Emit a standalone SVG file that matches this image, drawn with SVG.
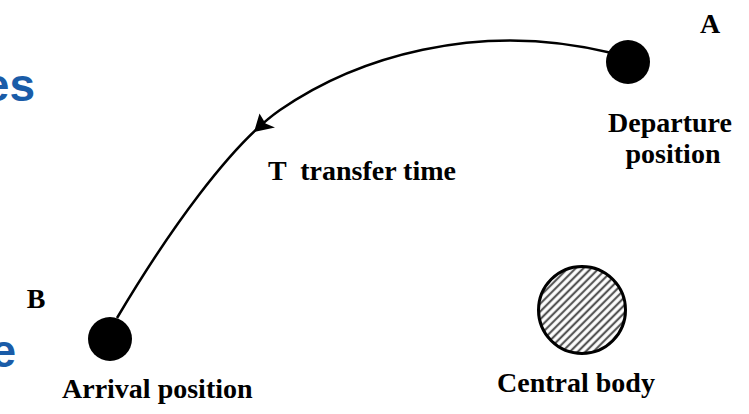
<svg xmlns="http://www.w3.org/2000/svg" width="749" height="414" viewBox="0 0 749 414">
<style>
.lbl{font-family:"Liberation Serif","Times New Roman",serif;font-weight:bold;font-size:28px;fill:#000}
.slide{font-family:"Liberation Sans",Arial,sans-serif;font-weight:bold;font-size:46px;fill:#1a5ca8}
.dot{fill:#000}
</style>
<defs>
<pattern id="hatch" width="5.5" height="5.5" patternUnits="userSpaceOnUse" patternTransform="rotate(-45)">
<rect width="5.5" height="5.5" fill="#fff"/>
<line x1="0" y1="2.75" x2="5.5" y2="2.75" stroke="#555" stroke-width="2.2"/>
</pattern>
</defs>
<rect width="749" height="414" fill="#fff"/>
<text class="slide" x="35" y="101" text-anchor="end">es</text>
<text class="slide" x="16" y="367" text-anchor="end">e</text>
<g id="connectors">
<path d="M612,53 C476,19.4 354,58.7 280,110 C231,144 168,232 117,318" fill="none" stroke="#000" stroke-width="2.5"/>
<polygon points="254,132 259.5,113.5 265.5,123.5 275,127.5" fill="#000"/>
</g>
<g id="departure">
<circle class="dot" cx="628" cy="62" r="22"/>
<text class="lbl" x="710" y="33" text-anchor="middle">A</text>
<text class="lbl" x="670" y="132" text-anchor="middle">Departure</text>
<text class="lbl" x="673" y="163" text-anchor="middle">position</text>
</g>
<g id="arrival">
<circle class="dot" cx="110" cy="339" r="22"/>
<text class="lbl" x="36" y="308" text-anchor="middle">B</text>
<text class="lbl" x="62" y="398">Arrival position</text>
</g>
<g id="transfer">
<text class="lbl" x="268" y="180" xml:space="preserve">T  transfer time</text>
</g>
<g id="central">
<circle cx="582" cy="310" r="43.5" fill="url(#hatch)" stroke="#000" stroke-width="3"/>
<text class="lbl" x="497" y="392">Central body</text>
</g>
</svg>
